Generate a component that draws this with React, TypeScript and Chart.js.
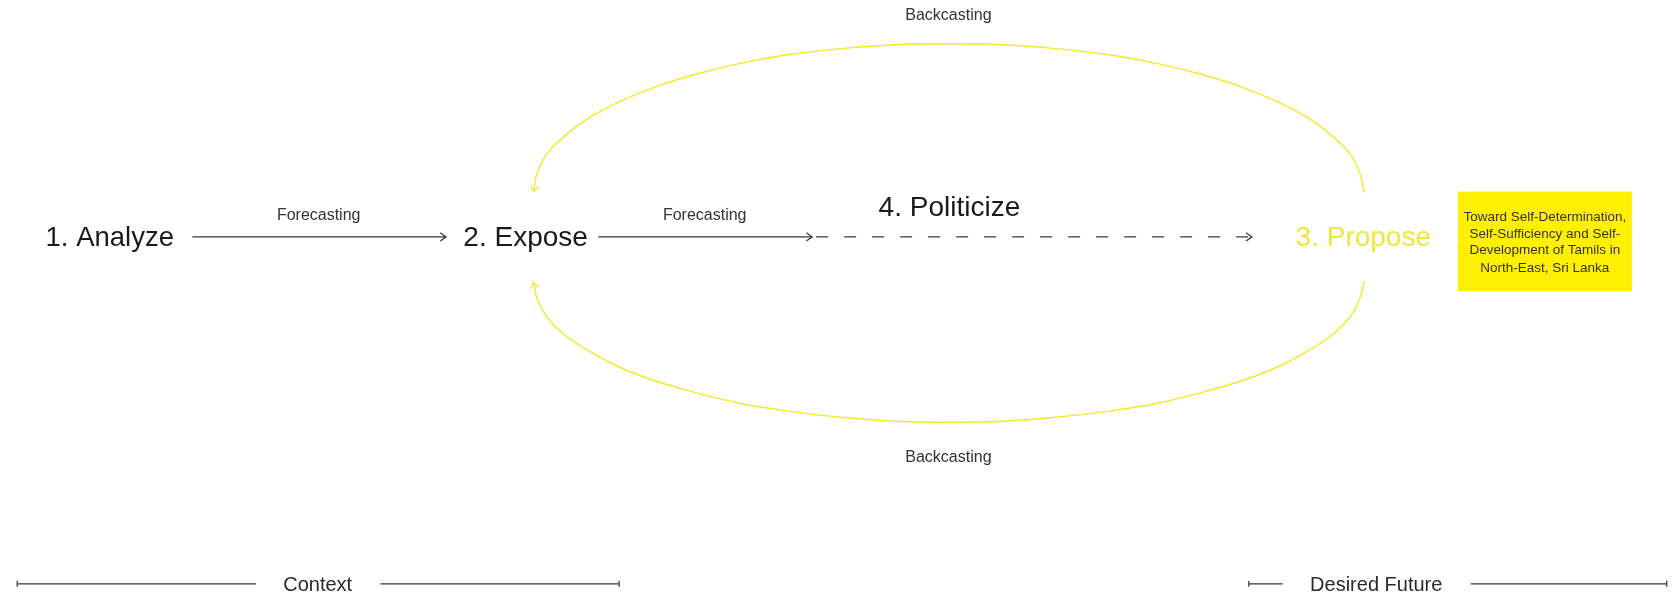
import React, { useEffect, useRef } from 'react';
import { Chart, registerables } from 'chart.js';

Chart.register(...registerables);

const CANVAS_W = 1676;
const CANVAS_H = 596;
const FONT = '"Liberation Sans", Arial, Helvetica, sans-serif';

// ---- Stage nodes ----
const stageNames = ['1. Analyze', '2. Expose', '4. Politicize', '3. Propose'];
const stageX = [106, 524, 950, 1366];
const stageY = [245, 245, 215, 245];
const stageSizes = [27.5, 28, 28, 28];
const stageColors = ['#1a1a1a', '#1a1a1a', '#1a1a1a', '#f0e63c'];

// ---- Flow labels ----
const flowNames = ['Forecasting', 'Forecasting', 'Backcasting', 'Backcasting'];
const flowX = [316, 704, 949, 949];
const flowY = [219, 219, 16, 464];

// ---- Goal box ----
const goalLines = [
  'Toward Self-Determination,',
  'Self-Sufficiency and Self-',
  'Development of Tamils in',
  'North-East, Sri Lanka',
];
const goalBoxX = [1461, 1636];
const goalBoxY = [190, 291];
const goalLineY = [216, 233, 250, 268];

// ---- Timeline labels ----
const spanNames = ['Context', 'Desired Future'];
const spanX = [315, 1379];
const spanY = [595, 595];

// ---- Paths ----
const analyzeToExpose = [{ x: 189, y: 236 }, { x: 444, y: 236 }];
const exposeToPoliticize = [{ x: 597, y: 236 }, { x: 812, y: 236 }];
const politicizeToPropose = [{ x: 812, y: 236 }, { x: 1254, y: 236 }];

// Backcasting arcs, traced from Propose (right) back to Expose (left)
const arcX = [
  1367, 1362, 1352, 1334, 1310, 1280, 1244, 1203, 1158, 1109, 1057, 1003,
  949,
  895, 841, 789, 740, 695, 654, 618, 588, 564, 546, 536, 532,
];
const arcTopY = [
  191, 170, 151, 133, 115, 99, 84, 71, 60, 51, 45, 41,
  40,
  41, 45, 51, 60, 71, 84, 99, 115, 133, 151, 170, 190,
];
const arcBottomY = [
  281, 300, 318, 336, 352, 368, 382, 394, 405, 413, 419, 423,
  424,
  423, 419, 413, 405, 394, 382, 368, 352, 336, 318, 300, 282,
];
const backcastTop = arcX.map((x, i) => ({ x, y: arcTopY[i] }));
const backcastBottom = arcX.map((x, i) => ({ x, y: arcBottomY[i] }));

const contextLeft = [{ x: 13, y: 588 }, { x: 253, y: 588 }];
const contextRight = [{ x: 378, y: 588 }, { x: 618, y: 588 }];
const futureLeft = [{ x: 1251, y: 588 }, { x: 1285, y: 588 }];
const futureRight = [{ x: 1474, y: 588 }, { x: 1671, y: 588 }];

const DARK = '#3a3a3a';
const YELLOW = '#f2e82c';
const BOX_YELLOW = '#ffef00';

const diagramPlugin = {
  id: 'diagram',
  beforeDatasetsDraw(chart: any) {
    const { ctx, scales } = chart;
    const xs = scales.x;
    const ys = scales.y;
    ctx.save();
    const x0 = xs.getPixelForValue(goalBoxX[0]);
    const x1 = xs.getPixelForValue(goalBoxX[1]);
    const y0 = ys.getPixelForValue(goalBoxY[0]);
    const y1 = ys.getPixelForValue(goalBoxY[1]);
    ctx.fillStyle = BOX_YELLOW;
    ctx.fillRect(x0, y0, x1 - x0, y1 - y0);
    ctx.restore();
  },
  afterDatasetsDraw(chart: any) {
    const { ctx, scales } = chart;
    const xs = scales.x;
    const ys = scales.y;
    ctx.save();
    // arrowheads
    chart.data.datasets.forEach((ds: any) => {
      if (!ds.arrowEnd) return;
      const d = ds.data;
      const a = d[d.length - 2];
      const b = d[d.length - 1];
      const ax = xs.getPixelForValue(a.x), ay = ys.getPixelForValue(a.y);
      const bx = xs.getPixelForValue(b.x), by = ys.getPixelForValue(b.y);
      const ang = Math.atan2(by - ay, bx - ax);
      const len = 7;
      const spread = 0.62;
      ctx.strokeStyle = ds.borderColor;
      ctx.lineWidth = 1.3;
      ctx.beginPath();
      ctx.moveTo(bx - len * Math.cos(ang - spread), by - len * Math.sin(ang - spread));
      ctx.lineTo(bx, by);
      ctx.lineTo(bx - len * Math.cos(ang + spread), by - len * Math.sin(ang + spread));
      ctx.stroke();
    });
    ctx.textAlign = 'center';
    ctx.textBaseline = 'alphabetic';
    // stage names
    stageNames.forEach((t, i) => {
      ctx.font = `${stageSizes[i]}px ${FONT}`;
      ctx.fillStyle = stageColors[i];
      ctx.fillText(t, xs.getPixelForValue(stageX[i]), ys.getPixelForValue(stageY[i]));
    });
    // flow labels
    flowNames.forEach((t, i) => {
      ctx.font = `16px ${FONT}`;
      ctx.fillStyle = '#333333';
      ctx.fillText(t, xs.getPixelForValue(flowX[i]), ys.getPixelForValue(flowY[i]));
    });
    // span labels
    spanNames.forEach((t, i) => {
      ctx.font = `20px ${FONT}`;
      ctx.fillStyle = '#2a2a2a';
      ctx.fillText(t, xs.getPixelForValue(spanX[i]), ys.getPixelForValue(spanY[i]));
    });
    // goal box text
    ctx.textBaseline = 'middle';
    ctx.font = `13.5px ${FONT}`;
    ctx.fillStyle = '#333333';
    const cx = xs.getPixelForValue((goalBoxX[0] + goalBoxX[1]) / 2);
    goalLines.forEach((t, i) => {
      ctx.fillText(t, cx, ys.getPixelForValue(goalLineY[i]));
    });
    ctx.restore();
  },
};

function lineDs(data: any[], color: string, extra: any = {}) {
  return {
    data,
    showLine: true,
    borderColor: color,
    backgroundColor: color,
    borderWidth: 1.2,
    pointRadius: 0,
    pointHoverRadius: 0,
    tension: 0,
    fill: false,
    clip: false,
    ...extra,
  };
}

function tickDs(data: any[], tickIndex: number) {
  return lineDs(data, DARK, {
    borderWidth: 1.3,
    pointStyle: 'line',
    pointRotation: 90,
    pointRadius: data.map((_: any, i: number) => (i === tickIndex ? 3 : 0)),
    pointBorderColor: DARK,
    pointBorderWidth: 1.3,
  });
}

export default function App() {
  const ref = useRef<HTMLCanvasElement | null>(null);
  useEffect(() => {
    document.body.style.margin = '0';
    document.body.style.overflow = 'hidden';
    document.body.style.background = '#ffffff';
    const canvas = ref.current;
    if (!canvas) return;
    const chart = new Chart(canvas, {
      type: 'scatter',
      data: {
        datasets: [
          lineDs(analyzeToExpose, DARK, { arrowEnd: true }),
          lineDs(exposeToPoliticize, DARK, { arrowEnd: true }),
          lineDs(politicizeToPropose, DARK, { arrowEnd: true, borderDash: [12, 16], borderDashOffset: -4 }),
          lineDs(backcastTop, YELLOW, { arrowEnd: true, tension: 0.35, borderWidth: 1.4 }),
          lineDs(backcastBottom, YELLOW, { arrowEnd: true, tension: 0.35, borderWidth: 1.4 }),
          tickDs(contextLeft, 0),
          tickDs(contextRight, 1),
          tickDs(futureLeft, 0),
          tickDs(futureRight, 1),
        ] as any,
      },
      options: {
        responsive: false,
        maintainAspectRatio: false,
        animation: false,
        events: [],
        layout: { padding: 0 },
        plugins: {
          legend: { display: false },
          tooltip: { enabled: false },
          title: { display: false },
        },
        scales: {
          x: { type: 'linear', min: 0, max: CANVAS_W, display: false },
          y: { type: 'linear', min: 0, max: CANVAS_H, reverse: true, display: false },
        },
      },
      plugins: [diagramPlugin],
    });
    return () => chart.destroy();
  }, []);
  return (
    <canvas
      ref={ref}
      width={CANVAS_W}
      height={CANVAS_H}
      style={{ display: 'block', width: CANVAS_W, height: CANVAS_H }}
    />
  );
}
